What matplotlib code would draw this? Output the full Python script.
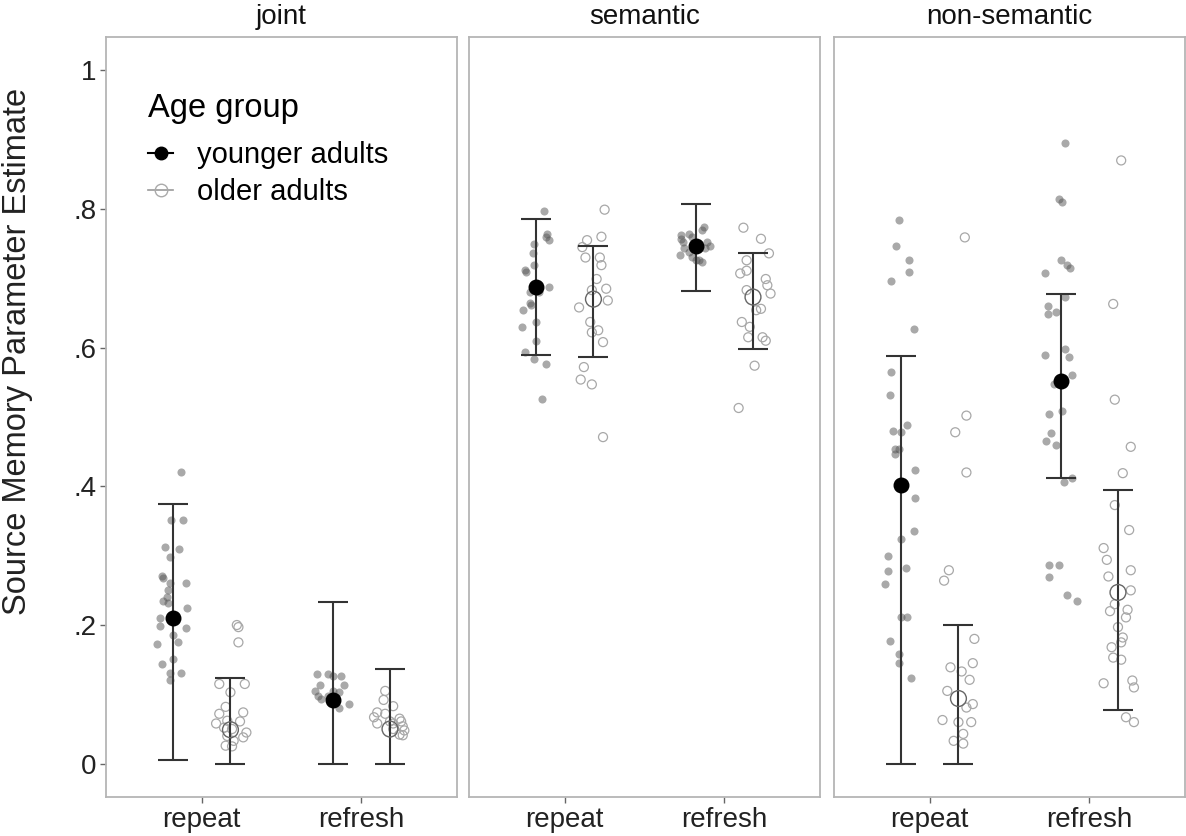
import matplotlib
matplotlib.use("Agg")
import matplotlib.pyplot as plt
from matplotlib.lines import Line2D

plt.rcParams["font.family"] = ["Liberation Sans", "DejaVu Sans"]

panels = ["joint", "semantic", "non-semantic"]
conditions = ["repeat", "refresh"]
ytick_vals = [0, 0.2, 0.4, 0.6, 0.8, 1.0]
ytick_labels = ["0", ".2", ".4", ".6", ".8", "1"]

# summary values per panel: [repeat, refresh]
young_mean = [[0.21, 0.092], [0.687, 0.747], [0.402, 0.552]]
young_lo = [[0.005, 0.0], [0.589, 0.681], [0.0, 0.412]]
young_hi = [[0.374, 0.233], [0.785, 0.807], [0.588, 0.677]]
old_mean = [[0.049, 0.05], [0.67, 0.673], [0.094, 0.247]]
old_lo = [[0.0, 0.0], [0.587, 0.598], [0.0, 0.077]]
old_hi = [[0.123, 0.136], [0.746, 0.736], [0.2, 0.395]]

# individual estimates as (jitter, value)
joint_repeat_young = [(0.05, 0.42), (-0.01, 0.352), (0.06, 0.352), (-0.05, 0.313), (0.04, 0.31),
                      (-0.02, 0.298), (-0.07, 0.27), (-0.065, 0.268), (-0.02, 0.261), (0.08, 0.26),
                      (-0.03, 0.25), (-0.04, 0.24), (-0.06, 0.235), (-0.03, 0.232), (0.09, 0.224),
                      (-0.08, 0.21), (-0.08, 0.198), (0.08, 0.195), (0.0, 0.185), (0.03, 0.175),
                      (-0.10, 0.172), (0.0, 0.151), (-0.07, 0.144), (-0.02, 0.131), (0.05, 0.131),
                      (-0.02, 0.121)]
joint_repeat_old = [(0.04, 0.2), (0.05, 0.197), (0.05, 0.175), (-0.07, 0.115), (0.09, 0.115),
                    (0.0, 0.103), (-0.03, 0.082), (0.08, 0.074), (-0.07, 0.072), (-0.09, 0.058),
                    (-0.02, 0.062), (0.06, 0.061), (0.01, 0.05), (-0.04, 0.052), (0.10, 0.045),
                    (0.08, 0.038), (-0.02, 0.04), (0.02, 0.033), (-0.03, 0.026), (0.01, 0.025)]
joint_refresh_young = [(-0.10, 0.129), (-0.03, 0.129), (0.05, 0.126), (0.0, 0.127), (0.07, 0.114),
                       (-0.08, 0.114), (-0.11, 0.105), (0.0, 0.105), (0.04, 0.103), (-0.09, 0.098),
                       (-0.03, 0.097), (0.02, 0.095), (0.10, 0.086), (-0.07, 0.094), (0.04, 0.081)]
joint_refresh_old = [(-0.03, 0.105), (-0.04, 0.092), (0.02, 0.083), (-0.08, 0.074), (-0.03, 0.072),
                     (-0.10, 0.067), (0.06, 0.065), (0.07, 0.061), (0.0, 0.061), (0.02, 0.058),
                     (-0.08, 0.058), (0.08, 0.054), (0.02, 0.05), (0.09, 0.048), (0.06, 0.042),
                     (0.08, 0.041)]

sem_repeat_young = [(0.05, 0.797), (0.07, 0.764), (0.08, 0.755), (0.06, 0.759), (-0.01, 0.75),
                    (-0.02, 0.736), (-0.07, 0.712), (-0.06, 0.709), (-0.01, 0.719), (0.08, 0.687),
                    (0.02, 0.68), (-0.04, 0.68), (-0.03, 0.661), (-0.08, 0.654), (-0.09, 0.63),
                    (0.0, 0.637), (0.0, 0.61), (-0.07, 0.594), (-0.01, 0.584), (0.06, 0.577),
                    (0.04, 0.526), (-0.04, 0.665), (0.01, 0.69)]
sem_repeat_old = [(0.07, 0.799), (0.05, 0.76), (-0.04, 0.755), (-0.07, 0.745), (-0.05, 0.73),
                  (0.04, 0.73), (0.05, 0.719), (0.02, 0.699), (0.08, 0.685), (-0.01, 0.683),
                  (-0.09, 0.658), (0.09, 0.668), (-0.02, 0.637), (-0.01, 0.622), (0.03, 0.625),
                  (0.06, 0.608), (-0.06, 0.572), (-0.08, 0.554), (-0.01, 0.547), (0.06, 0.471)]
sem_refresh_young = [(0.05, 0.774), (0.04, 0.769), (-0.09, 0.762), (-0.04, 0.764), (-0.02, 0.759),
                     (-0.08, 0.752), (0.07, 0.752), (0.09, 0.747), (-0.04, 0.738), (-0.07, 0.743),
                     (0.06, 0.743), (-0.10, 0.733), (-0.02, 0.731), (0.0, 0.726), (0.04, 0.723),
                     (0.02, 0.726), (-0.09, 0.757)]
sem_refresh_old = [(-0.06, 0.773), (0.05, 0.757), (0.10, 0.736), (-0.04, 0.726), (-0.08, 0.707),
                   (-0.04, 0.711), (0.08, 0.699), (0.09, 0.69), (0.11, 0.678), (-0.04, 0.683),
                   (0.05, 0.656), (0.02, 0.654), (-0.07, 0.637), (-0.02, 0.63), (-0.03, 0.615),
                   (0.06, 0.615), (0.08, 0.61), (0.01, 0.574), (-0.09, 0.513)]

nonsem_repeat_young = [(-0.01, 0.784), (-0.03, 0.747), (0.05, 0.727), (0.05, 0.709), (-0.06, 0.696),
                       (0.08, 0.627), (-0.06, 0.565), (-0.07, 0.532), (0.04, 0.489), (-0.05, 0.48),
                       (0.0, 0.478), (-0.04, 0.454), (-0.01, 0.454), (-0.04, 0.447), (0.09, 0.424),
                       (0.09, 0.383), (0.08, 0.335), (0.0, 0.324), (-0.08, 0.30), (-0.08, 0.278),
                       (0.03, 0.282), (-0.10, 0.259), (0.0, 0.211), (0.04, 0.211), (-0.07, 0.177),
                       (-0.01, 0.158), (-0.01, 0.145), (0.06, 0.123)]
nonsem_repeat_old = [(0.04, 0.759), (0.05, 0.502), (-0.02, 0.478), (0.05, 0.42), (-0.06, 0.279),
                     (-0.09, 0.264), (0.10, 0.18), (0.09, 0.145), (-0.05, 0.139), (0.02, 0.133),
                     (0.07, 0.121), (-0.07, 0.105), (0.05, 0.081), (0.09, 0.086), (-0.10, 0.063),
                     (0.08, 0.06), (0.0, 0.06), (0.03, 0.043), (-0.03, 0.033), (0.03, 0.029)]
nonsem_refresh_young = [(0.03, 0.895), (-0.01, 0.815), (0.01, 0.81), (0.0, 0.727), (0.04, 0.719),
                        (0.06, 0.715), (-0.10, 0.708), (0.03, 0.673), (-0.08, 0.66), (-0.08, 0.649),
                        (-0.03, 0.651), (-0.10, 0.59), (0.03, 0.598), (0.05, 0.586), (0.07, 0.56),
                        (-0.04, 0.548), (-0.07, 0.504), (0.01, 0.508), (-0.06, 0.477), (-0.09, 0.465),
                        (-0.03, 0.46), (0.07, 0.412), (0.02, 0.406), (-0.07, 0.287), (-0.01, 0.287),
                        (-0.07, 0.269), (0.04, 0.244), (0.10, 0.235)]
nonsem_refresh_old = [(0.02, 0.87), (-0.03, 0.663), (-0.02, 0.525), (0.08, 0.457), (0.03, 0.419),
                      (-0.02, 0.373), (0.07, 0.337), (-0.09, 0.311), (-0.07, 0.294), (0.08, 0.279),
                      (-0.06, 0.27), (0.08, 0.25), (-0.02, 0.23), (-0.05, 0.22), (0.06, 0.222),
                      (0.05, 0.211), (0.0, 0.197), (0.03, 0.182), (-0.04, 0.168), (0.02, 0.175),
                      (-0.03, 0.153), (0.02, 0.15), (-0.09, 0.116), (0.09, 0.12), (0.10, 0.11),
                      (0.05, 0.067), (0.10, 0.06)]

young_points = [[joint_repeat_young, joint_refresh_young],
                [sem_repeat_young, sem_refresh_young],
                [nonsem_repeat_young, nonsem_refresh_young]]
old_points = [[joint_repeat_old, joint_refresh_old],
              [sem_repeat_old, sem_refresh_old],
              [nonsem_repeat_old, nonsem_refresh_old]]

dodge = 0.18
border = "#b5b5b5"

fig = plt.figure(figsize=(11.86, 8.36), dpi=100)
lefts = [106 / 1186, 469 / 1186, 834 / 1186]
width = 351 / 1186
bottom = 1 - 797 / 836
height = (797 - 37) / 836

for p, name in enumerate(panels):
    ax = fig.add_axes([lefts[p], bottom, width, height])
    for c in range(len(conditions)):
        xc = c + 1
        # younger adults
        pts = young_points[p][c]
        ax.scatter([xc - dodge + j for j, v in pts], [v for j, v in pts],
                   s=34, color="#555555", alpha=0.5, linewidths=0, zorder=2)
        ax.errorbar(xc - dodge, young_mean[p][c],
                    yerr=[[young_mean[p][c] - young_lo[p][c]], [young_hi[p][c] - young_mean[p][c]]],
                    fmt="none", ecolor="#333333", elinewidth=1.5, capsize=11, capthick=1.5, zorder=3)
        ax.scatter([xc - dodge], [young_mean[p][c]], s=110, color="black", zorder=4)
        # older adults
        pts = old_points[p][c]
        ax.scatter([xc + dodge + j for j, v in pts], [v for j, v in pts],
                   s=42, facecolors="none", edgecolors="#a8a8a8", linewidths=0.9, zorder=2)
        ax.errorbar(xc + dodge, old_mean[p][c],
                    yerr=[[old_mean[p][c] - old_lo[p][c]], [old_hi[p][c] - old_mean[p][c]]],
                    fmt="none", ecolor="#333333", elinewidth=1.5, capsize=11, capthick=1.5, zorder=3)
        ax.scatter([xc + dodge], [old_mean[p][c]], s=130, facecolors="none",
                   edgecolors="#666666", linewidths=1.0, zorder=4)

    ax.set_xlim(0.4, 2.6)
    ax.set_ylim(-0.048, 1.048)
    ax.set_xticks([1, 2])
    ax.set_xticklabels(conditions, fontsize=20, color="#222222")
    ax.set_yticks(ytick_vals)
    if p == 0:
        ax.set_yticklabels(ytick_labels, fontsize=20, color="#222222")
        ax.tick_params(axis="y", length=4, width=1, color="#666666", pad=3)
    else:
        ax.tick_params(axis="y", left=False, labelleft=False)
    ax.tick_params(axis="x", length=4, width=1, color="#666666", pad=3)
    for s in ax.spines.values():
        s.set_color(border)
        s.set_linewidth(1.3)
    ax.set_title(name, fontsize=20, pad=9, color="#111111")

    if p == 0:
        handles = [
            Line2D([], [], color="black", lw=1.5, marker="o", markersize=9),
            Line2D([], [], color="#999999", lw=1.2, marker="o", markersize=9,
                   markerfacecolor="none", markeredgecolor="#aaaaaa"),
        ]
        leg = ax.legend(handles, ["younger adults", "older adults"], title="Age group",
                        loc="upper left", bbox_to_anchor=(0.12, 0.926), frameon=False,
                        fontsize=21, title_fontsize=23.5, handlelength=0.86,
                        handletextpad=0.8, labelspacing=0.31, borderpad=0, borderaxespad=0)
        leg._legend_box.align = "left"
        leg._legend_box.sep = 12

fig.text(18 / 1186, 1 - 351 / 836, "Source Memory Parameter Estimate",
         rotation=90, fontsize=23.5, va="center", ha="center", color="#222222")

fig.savefig("out.png", dpi=100)
